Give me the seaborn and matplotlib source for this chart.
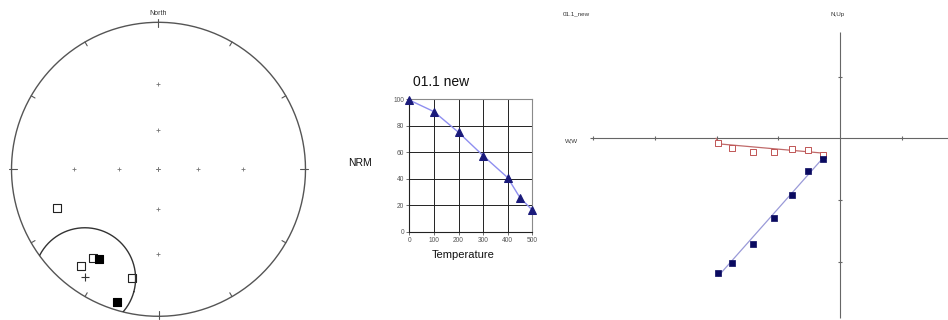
import numpy as np
import pandas as pd
import matplotlib
matplotlib.use("Agg")
import matplotlib.pyplot as plt
import seaborn as sns

sns.set_theme(style="white")
plt.rcParams['font.family'] = ['Liberation Sans', 'DejaVu Sans']

# ---------------- data ----------------
# Stereonet directions (declination, inclination; negative = upper hemisphere / open)
dir_dec = [248.9, 218.9, 216.5, 213.3, 193.7, 197.5]
dir_inc = [-17.2, -9.8, -16.0, 17.6, -15.3, 3.3]
mean_dec, mean_inc = 214.2, 6.8
a95_dec, a95_inc, a95 = 214.0, 10.0, 22.3
grid_incs = [90, 60, 30]
grid_decs = [0, 90, 180, 270]

# Demagnetisation curve
temps = [0, 100, 200, 300, 400, 450, 500]
nrm = [99.2, 90.5, 74.9, 57.3, 40.7, 25.6, 16.3]

# Zijderveld diagram
zij_x = [-1.972, -1.746, -1.405, -1.065, -0.783, -0.523, -0.271]
zij_h = [-0.071, -0.152, -0.227, -0.217, -0.178, -0.185, -0.271]
zij_v = [-2.188, -2.016, -1.713, -1.297, -0.919, -0.530, -0.331]
fit_h_x = [-2.01, -1.945, -0.243]
fit_h_y = [0.0, -0.092, -0.243]
fit_v_x = [-1.972, -0.243]
fit_v_y = [-2.232, -0.282]
zij_ticks_x = [-4, -3, -2, -1, 1]
zij_ticks_y = [1, -1, -2]

W, H = 948, 320
fig = plt.figure(figsize=(W / 100, H / 100), dpi=100)
fig.patch.set_facecolor("white")


def proj(dec, inc):
    dec = np.radians(np.asarray(dec, float))
    r = np.tan(np.radians(90 - np.abs(np.asarray(inc, float))) / 2)
    return r * np.sin(dec), r * np.cos(dec)


# ---------------- stereonet ----------------
cx, cy, R = 158.5, 320 - 169.3, 147.0
L = 1.08
half = L * R
ax1 = fig.add_axes([(cx - half) / W, (cy - half) / H, 2 * half / W, 2 * half / H])
ax1.set_xlim(-L, L)
ax1.set_ylim(-L, L)
ax1.set_axis_off()
gray = "#555555"
t = np.linspace(0, 2 * np.pi, 400)
ax1.plot(np.cos(t), np.sin(t), color=gray, lw=1.0)
for d in range(0, 360, 30):
    a = np.radians(d)
    if d % 90 == 0:
        r0, r1 = 0.965, 1.02
    else:
        r0, r1 = 0.97, 1.0
    ax1.plot([r0 * np.sin(a), r1 * np.sin(a)], [r0 * np.cos(a), r1 * np.cos(a)],
             color=gray, lw=0.8)
gx, gy = [], []
for gi in grid_incs:
    for gd in grid_decs:
        px, py = proj(gd, gi)
        gx.append(float(px)); gy.append(float(py))
ax1.plot(gx, gy, ls="none", marker="+", ms=2.2, mew=0.6, color="#777777")

sx, sy = proj(dir_dec, dir_inc)
df_st = pd.DataFrame({"x": sx, "y": sy, "lower": np.array(dir_inc) > 0})
sns.scatterplot(data=df_st[~df_st.lower], x="x", y="y", marker="s", s=36,
                facecolor="white", edgecolor="#222222", linewidth=0.8, ax=ax1)
sns.scatterplot(data=df_st[df_st.lower], x="x", y="y", marker="s", s=36,
                color="black", edgecolor="black", linewidth=0.8, ax=ax1)
mx, my = proj(mean_dec, mean_inc)
ax1.plot([mx], [my], marker="+", ms=6, mew=0.8, color="#333333")

# alpha95 small circle
D, I, A = np.radians(a95_dec), np.radians(a95_inc), np.radians(a95)
m = np.array([np.cos(I) * np.cos(D), np.cos(I) * np.sin(D), np.sin(I)])
u = np.cross(m, [0, 0, 1.0]); u /= np.linalg.norm(u)
v = np.cross(m, u)
phi = np.linspace(0, 2 * np.pi, 361)
pts = (np.cos(A) * m[:, None] + np.sin(A) * (np.cos(phi) * u[:, None] + np.sin(phi) * v[:, None]))
cdec = np.degrees(np.arctan2(pts[1], pts[0]))
cinc = np.degrees(np.arcsin(np.clip(pts[2], -1, 1)))
rr = np.tan(np.radians(90 - cinc) / 2)
ccx, ccy = rr * np.sin(np.radians(cdec)), rr * np.cos(np.radians(cdec))
circ, = ax1.plot(ccx, ccy, color="#333333", lw=1.0)
clip = plt.Circle((0, 0), 1.0, transform=ax1.transData)
circ.set_clip_path(clip)
ax1.text(0, 1.062, "North", ha="center", va="center", fontsize=5, color="#333333")
ax1.set_xlabel(""); ax1.set_ylabel("")

# ---------------- demag curve ----------------
l2, r2, t2, b2 = 409.3, 532.3, 99.0, 231.7
ax2 = fig.add_axes([l2 / W, (H - b2) / H, (r2 - l2) / W, (b2 - t2) / H])
sns.lineplot(x=temps, y=nrm, ax=ax2, color="#8f8ff0", lw=1.0, marker="^",
             markersize=5.5, markerfacecolor="#1a1a7a", markeredgecolor="#1a1a7a",
             clip_on=False, zorder=5)
ax2.set_xlim(0, 500)
ax2.set_ylim(0, 100)
ax2.set_xticks(range(0, 501, 100))
ax2.set_yticks(range(0, 101, 20))
ax2.grid(True, color="#222222", lw=0.7)
ax2.set_axisbelow(True)
for k, s in ax2.spines.items():
    s.set_linewidth(0.8)
    s.set_color("#222222" if k in ("left", "bottom") else "#8a8a8a")
ax2.tick_params(labelsize=4.8, colors="#555555", length=2, width=0.6, pad=1.5,
                direction="out", left=True, bottom=True)
ax2.set_xlabel(""); ax2.set_ylabel("")
fig.text(412.7 / W, 1 - 81.7 / H, "01.1 new", ha="left", va="center", fontsize=10, color="#111111")
fig.text(360 / W, 1 - 163.3 / H, "NRM", ha="center", va="center", fontsize=7.5, color="#111111")
fig.text(462.7 / W, 1 - 255 / H, "Temperature", ha="center", va="center", fontsize=8, color="#111111")

# ---------------- Zijderveld ----------------
ox, oy, unit = 840.0, 138.3, 61.7
xl = ((560 - ox) / unit, (948 - ox) / unit)
yl = (-(320 - oy) / unit, oy / unit)
ax3 = fig.add_axes([560 / W, 0, 388 / W, 1])
ax3.set_xlim(*xl)
ax3.set_ylim(*yl)
ax3.set_axis_off()
ac = "#666666"
ax3.hlines(0, (590 - ox) / unit, xl[1], color=ac, lw=0.8)
ax3.vlines(0, -(318 - oy) / unit, (oy - 31.7) / unit, color=ac, lw=0.8)
ax3.vlines(zij_ticks_x, -0.035, 0.035, color=ac, lw=0.8)
ax3.hlines(zij_ticks_y, -0.035, 0.035, color=ac, lw=0.8)
ax3.plot(fit_h_x, fit_h_y, color="#c06a6a", lw=0.9)
ax3.plot(fit_v_x, fit_v_y, color="#9a9ad8", lw=0.9)
sns.scatterplot(x=zij_x, y=zij_h, marker="s", s=14, facecolor="white",
                edgecolor="#c05555", linewidth=0.7, ax=ax3, zorder=3)
sns.scatterplot(x=zij_x, y=zij_v, marker="s", s=18, color="#0a0a60",
                edgecolor="#0a0a60", linewidth=0.5, ax=ax3, zorder=3)
fig.text(563 / W, 1 - 14 / H, "01.1_new", ha="left", va="center", fontsize=4.5, color="#333333")
fig.text(838 / W, 1 - 14.7 / H, "N,Up", ha="center", va="center", fontsize=4.5, color="#333333")
fig.text(572 / W, 1 - 141 / H, "W,W", ha="center", va="center", fontsize=4.5, color="#333333")

fig.savefig("out.png", dpi=100, facecolor="white")
